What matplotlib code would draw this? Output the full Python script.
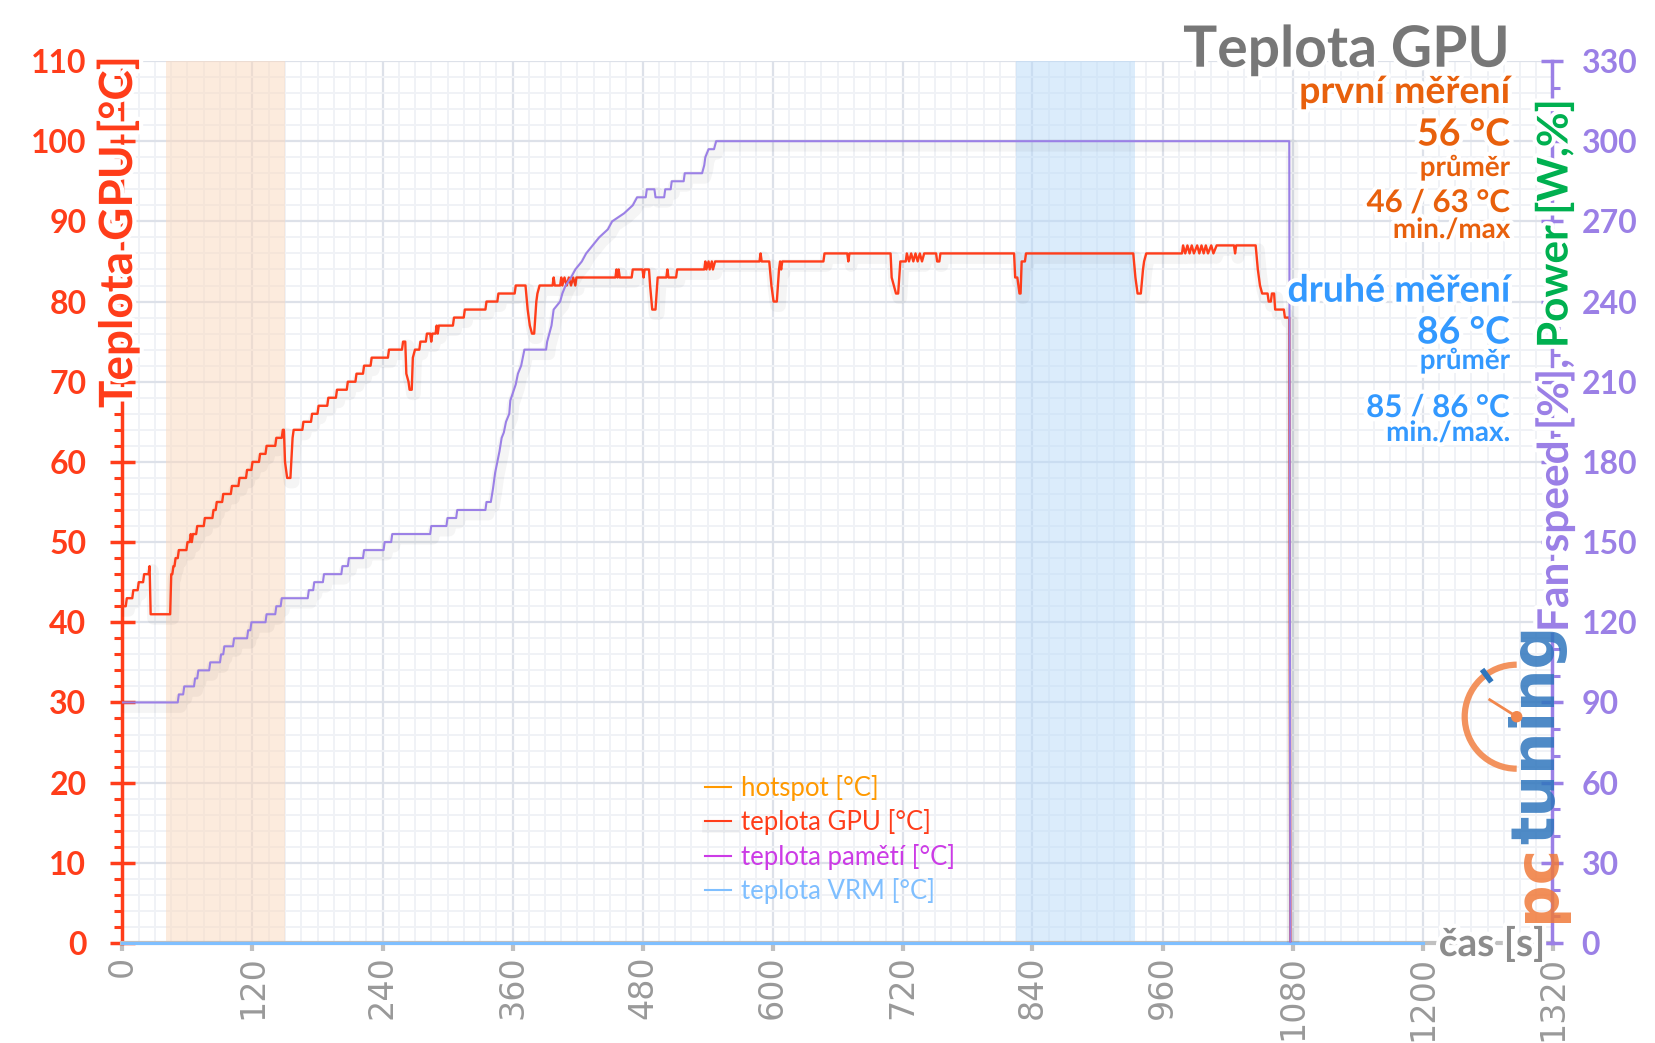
import matplotlib
matplotlib.use("Agg")
import matplotlib.pyplot as plt
import matplotlib.patheffects as pe
from matplotlib.ticker import MultipleLocator
from matplotlib.patches import Arc, Ellipse
from matplotlib.lines import Line2D
from matplotlib.text import Annotation

# ---- data ----
gpu_t = [0, 3, 4, 9, 10, 14, 15, 19, 20, 24, 25, 26, 44, 45, 46, 47, 48, 49, 51, 52,
         59, 60, 62, 63, 64, 65, 68, 69, 75, 76, 83, 84, 86, 87, 92, 93, 100, 101, 107, 108,
         114, 115, 119, 120, 126, 127, 132, 133, 141, 142, 147, 148, 149, 150, 151, 152, 155, 157, 158, 166,
         167, 174, 175, 180, 181, 189, 190, 197, 198, 207, 208, 215, 216, 222, 223, 229, 230, 245, 246, 258,
         259, 261, 262, 264, 265, 267, 268, 270, 274, 275, 280, 281, 284, 285, 286, 289, 290, 291, 292, 305,
         306, 315, 316, 335, 336, 346, 347, 362, 363, 372, 374, 376, 378, 380, 382, 383, 385, 397, 398, 399,
         404, 405, 406, 408, 410, 412, 414, 416, 418, 419, 455, 456, 457, 458, 459, 470, 471, 480, 481, 482,
         486, 487, 489, 492, 494, 502, 503, 504, 511, 512, 537, 538, 539, 541, 542, 544, 545, 547, 588, 589,
         590, 597, 599, 601, 604, 606, 607, 608, 609, 647, 648, 669, 670, 671, 709, 710, 712, 714, 716, 718,
         723, 724, 726, 728, 730, 732, 734, 736, 738, 740, 751, 752, 754, 755, 823, 824, 826, 828, 829, 830,
         833, 834, 933, 935, 937, 940, 942, 943, 945, 978, 979, 981, 983, 985, 987, 989, 992, 994, 996, 998,
         1000, 1002, 1005, 1007, 1010, 1026, 1027, 1028, 1046, 1048, 1050, 1052, 1057, 1058, 1060, 1061, 1063, 1064, 1072, 1073,
         1077, 1078]
gpu_temp = [42, 42, 43, 43, 44, 44, 45, 45, 46, 46, 47, 41, 41, 46, 46, 47, 47, 48, 48, 49,
            49, 50, 50, 51, 50, 51, 51, 52, 52, 53, 53, 54, 54, 55, 55, 56, 56, 57, 57, 58,
            58, 59, 59, 60, 60, 61, 61, 62, 62, 63, 63, 64, 64, 60, 59, 58, 58, 63, 64, 64,
            65, 65, 66, 66, 67, 67, 68, 68, 69, 69, 70, 70, 71, 71, 72, 72, 73, 73, 74, 74,
            75, 75, 71, 70, 69, 69, 73, 74, 74, 75, 75, 76, 76, 75, 76, 76, 77, 76, 77, 77,
            78, 78, 79, 79, 80, 80, 81, 81, 82, 82, 79, 77, 76, 76, 80, 81, 82, 82, 83, 82,
            82, 83, 82, 83, 82, 83, 82, 83, 82, 83, 83, 84, 83, 84, 83, 83, 84, 84, 83, 84,
            84, 82, 79, 79, 83, 83, 84, 83, 83, 84, 84, 85, 84, 85, 84, 85, 84, 85, 85, 86,
            85, 85, 82, 80, 80, 84, 85, 84, 85, 85, 86, 86, 85, 86, 86, 83, 82, 81, 81, 85,
            85, 86, 85, 86, 85, 86, 85, 86, 85, 86, 86, 85, 85, 86, 86, 83, 83, 81, 81, 85,
            85, 86, 86, 83, 81, 81, 84, 85, 86, 86, 87, 86, 87, 86, 87, 86, 87, 86, 87, 86,
            87, 86, 87, 86, 87, 87, 86, 87, 87, 84, 82, 81, 81, 80, 80, 81, 81, 79, 79, 78,
            78, 0]

fan_t = [0, 51, 52, 56, 57, 66, 67, 69, 70, 80, 81, 90, 91, 93, 94, 102, 103, 115, 116, 118,
         119, 132, 133, 141, 142, 146, 147, 171, 172, 176, 177, 185, 186, 202, 203, 208, 209, 222, 223, 241,
         242, 248, 249, 284, 285, 299, 300, 308, 309, 335, 336, 340, 342, 344, 346, 348, 350, 352, 354, 357,
         358, 363, 365, 368, 371, 391, 392, 394, 396, 398, 404, 406, 409, 414, 418, 424, 428, 434, 440, 448,
         452, 463, 471, 475, 483, 484, 491, 492, 500, 501, 506, 507, 518, 519, 535, 537, 538, 541, 546, 548,
         1077, 1078]
fan_val = [90, 90, 93, 93, 96, 96, 99, 99, 102, 102, 105, 105, 108, 108, 111, 111, 114, 114, 117, 117,
           120, 120, 123, 123, 126, 126, 129, 129, 132, 132, 135, 135, 138, 138, 141, 141, 144, 144, 147, 147,
           150, 150, 153, 153, 156, 156, 159, 159, 162, 162, 165, 165, 170, 176, 180, 184, 189, 191, 195, 198,
           203, 209, 213, 216, 222, 222, 225, 228, 231, 237, 240, 243, 246, 249, 252, 255, 258, 261, 264, 267,
           270, 273, 276, 279, 279, 282, 282, 279, 279, 282, 282, 285, 285, 288, 288, 291, 294, 297, 297, 300,
           300, 0]

zero_t = [0, 1200]
hotspot = [0, 0]
mem_temp = [0, 0]
vrm_temp = [0, 0]

band1 = (40, 150)
band2 = (825, 935)

W, H = 1656, 1043
RED = "#ff3d1a"
PURPLE = "#9b80e6"
ORANGE_T = "#e8600c"
BLUE_T = "#3399ff"
GREEN = "#00b050"
GRAY_T = "#777777"

plt.rcParams["font.family"] = ["Lato", "DejaVu Sans"]


def px(x, y):
    return x / W, 1 - y / H


halo = [pe.withStroke(linewidth=6, foreground="white")]
shadow = [pe.SimpleLineShadow(offset=(2, -3), shadow_color="black", alpha=0.04, linewidth=9), pe.Normal()]

fig = plt.figure(figsize=(W / 100, H / 100), dpi=100)
ax = fig.add_axes([122.5 / W, 1 - 943 / H, (1552.5 - 122.5) / W, (943 - 61) / H])
ax2 = ax.twinx()

ax.set_xlim(0, 1320)
ax.set_ylim(0, 110)
ax2.set_ylim(0, 330)

# grid
ax.set_axisbelow(True)
ax.xaxis.set_major_locator(MultipleLocator(120))
ax.xaxis.set_minor_locator(MultipleLocator(15))
ax.yaxis.set_major_locator(MultipleLocator(10))
ax.yaxis.set_minor_locator(MultipleLocator(2))
ax2.yaxis.set_major_locator(MultipleLocator(30))
ax2.yaxis.set_minor_locator(MultipleLocator(10))
ax.grid(which="major", color="#dde1e9", lw=1.6)
ax.grid(which="minor", color="#f0f2f6", lw=1.4)

# measurement bands
ax.axvspan(*band1, color="#fbd9bd", alpha=0.5, lw=0, zorder=1)
ax.axvspan(*band2, color="#b9dbf9", alpha=0.5, lw=0, zorder=1)

# series
ax.plot(zero_t, hotspot, color="#ff9900", lw=2, label="hotspot [°C]", clip_on=False, zorder=3)
ax.plot(gpu_t, gpu_temp, color=RED, lw=1.7, label="teplota GPU [°C]", zorder=4, path_effects=shadow)
ax.plot(zero_t, mem_temp, color="#cc3be6", lw=2, label="teplota pamětí [°C]", clip_on=False, zorder=3)
ax2.plot(fan_t, fan_val, color=PURPLE, lw=1.5, zorder=3, path_effects=shadow)
ax.plot(zero_t, vrm_temp, color="#7fbfff", lw=2.2, label="teplota VRM [°C]", clip_on=False, zorder=5)

# spines
for s in ["top", "right"]:
    ax.spines[s].set_visible(False)
for s in ["top", "left", "bottom"]:
    ax2.spines[s].set_visible(False)
ax.spines["left"].set_color(RED)
ax.spines["left"].set_linewidth(2.5)
ax.spines["bottom"].set_color("#c0c0c0")
ax.spines["bottom"].set_linewidth(3)
ax2.spines["right"].set_color(PURPLE)
ax2.spines["right"].set_linewidth(2.5)

# ticks
ax.tick_params(axis="y", which="major", direction="inout", length=18, width=2.5, color=RED,
               labelcolor=RED, labelsize=23, pad=17)
ax.tick_params(axis="y", which="minor", direction="out", length=6, width=2.2, color=RED)
ax2.tick_params(axis="y", which="major", direction="inout", length=16, width=2.5, color=PURPLE,
                labelcolor=PURPLE, labelsize=23, pad=13)
ax2.tick_params(axis="y", which="minor", direction="out", length=6, width=2.2, color=PURPLE)
ax.tick_params(axis="x", which="major", direction="out", length=6, width=3, color="#c0c0c0",
               labelcolor="#999999", labelsize=24, pad=3, labelrotation=90)
ax.tick_params(axis="x", which="minor", length=0)
for lb in ax.get_yticklabels() + ax2.get_yticklabels():
    lb.set_fontweight("bold")
for lb in ax.get_xticklabels():
    lb.set_family("DejaVu Sans")

# legend
leg = ax.legend(loc="upper left", bbox_to_anchor=px(705, 775), bbox_transform=fig.transFigure,
                frameon=False, fontsize=18.5, handlelength=1.0, handletextpad=0.4,
                labelspacing=0.33, borderpad=0, borderaxespad=0, labelcolor="linecolor")
for h in leg.legend_handles:
    h.set_linewidth(1.5)

# axis titles
fig.text(*px(118, 232), "Teplota GPU [°C]", rotation=90, ha="center", va="center",
         color=RED, fontsize=33, fontweight="bold", path_effects=halo)
t1 = fig.text(*px(1555, 632), "Fan speed [%], ", rotation=90, ha="center", va="bottom",
              color=PURPLE, fontsize=30.5, fontweight="bold", path_effects=halo)
t2 = Annotation("Power [W,%]", xy=(0.5, 1), xycoords=t1, rotation=90, ha="center", va="bottom",
                color=GREEN, fontsize=30.5, fontweight="bold", path_effects=halo)
fig.add_artist(t2)
fig.text(*px(1492, 956), "čas [s]", ha="center", va="baseline", color="#8c8c8c",
         fontsize=28, fontweight="bold", path_effects=halo)

# title block
info = [
    ("Teplota GPU", 66.7, 41, GRAY_T),
    ("první měření", 103, 27, ORANGE_T),
    ("56 °C", 145.5, 27, ORANGE_T),
    ("průměr", 176, 20, ORANGE_T),
    ("46 / 63 °C", 212, 22.5, ORANGE_T),
    ("min./max", 238, 20, ORANGE_T),
    ("druhé měření", 301.7, 27, BLUE_T),
    ("86 °C", 343.5, 27, BLUE_T),
    ("průměr", 369, 20, BLUE_T),
    ("85 / 86 °C", 417, 22.5, BLUE_T),
    ("min./max.", 441, 20, BLUE_T),
]
for txt, yb, size, col in info:
    fig.text(*px(1510, yb), txt, ha="right", va="baseline", color=col, fontsize=size,
             fontweight="bold", path_effects=halo)

# pctuning logo
lg1 = fig.text(*px(1538, 922), "pc", rotation=90, ha="center", va="bottom", color="#f07a3a",
               fontsize=43, fontweight="bold", family="DejaVu Sans", alpha=0.85, zorder=4)
lg2 = Annotation("tuning", xy=(0.5, 1), xycoords=lg1, rotation=90, ha="center", va="bottom",
                 color="#2f76bd", fontsize=43, fontweight="bold", family="DejaVu Sans",
                 alpha=0.85, zorder=4)
fig.add_artist(lg2)
cx, cy, r = 1516.7, 716.7, 52
fig.add_artist(Arc(px(cx, cy), 2 * r / W, 2 * r / H, theta1=90, theta2=270,
                   transform=fig.transFigure, color="#f2874c", lw=4.5, alpha=0.9, zorder=4))
fig.add_artist(Line2D([cx / W, (cx - 27) / W], [1 - cy / H, 1 - (cy - 17) / H],
                      transform=fig.transFigure, color="#f2874c", lw=2, zorder=4))
fig.add_artist(Ellipse(px(cx, cy), 10 / W, 10 / H, transform=fig.transFigure,
                       color="#f2874c", zorder=4))
fig.add_artist(Line2D([(cx - 27) / W, (cx - 33) / W], [1 - (cy - 37) / H, 1 - (cy - 45) / H],
                      transform=fig.transFigure, color="#2f76bd", lw=4, zorder=4))

fig.savefig("out.png", dpi=100, facecolor="white")
